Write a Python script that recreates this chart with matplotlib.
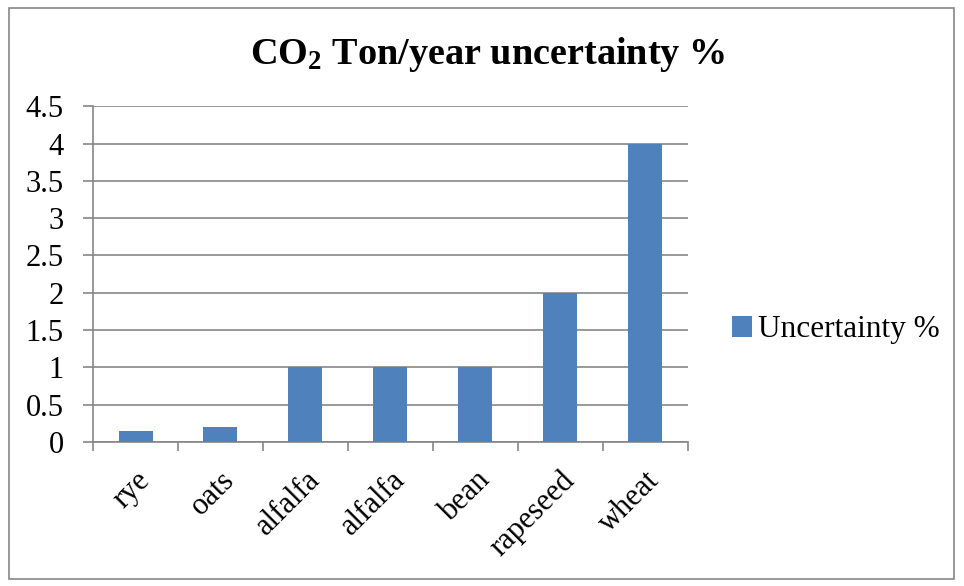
import matplotlib.pyplot as plt
from matplotlib.patches import Rectangle

crops = ["rye", "oats", "alfalfa", "alfalfa", "bean", "rapeseed", "wheat"]
uncertainty = [0.15, 0.2, 1, 1, 1, 2, 4]
yticks = [0, 0.5, 1, 1.5, 2, 2.5, 3, 3.5, 4, 4.5]

plt.rcParams['font.family'] = ['Liberation Serif', 'DejaVu Serif']
# bold serif for the subscript in the title
plt.rcParams['mathtext.fontset'] = 'custom'
plt.rcParams['mathtext.rm'] = 'Liberation Serif:bold'
plt.rcParams['mathtext.it'] = 'Liberation Serif:bold'
plt.rcParams['mathtext.bf'] = 'Liberation Serif:bold'

grid_col = '#868686'

fig = plt.figure(figsize=(9.64, 5.86), dpi=100)
ax = fig.add_axes([0.0965, 0.2457, 0.617, 0.573])

# outer chart border
fig.patches.append(Rectangle((0.009, 0.012), 0.981, 0.975, transform=fig.transFigure,
                             fill=False, edgecolor=grid_col, linewidth=1.2))

x = range(len(crops))
ax.bar(x, uncertainty, width=0.4, color='#4F81BD', label='Uncertainty %', zorder=3)

ax.set_xlim(-0.5, len(crops) - 0.5)
ax.set_ylim(0, 4.5)
ax.set_yticks(yticks)
ax.set_yticklabels([f"{v:g}" for v in yticks], fontsize=22)
ax.yaxis.grid(True, color=grid_col, linewidth=1.2, zorder=0)

# category boundary ticks on x axis
ax.set_xticks([i - 0.5 for i in range(len(crops) + 1)], minor=False)
ax.set_xticklabels([])
ax.set_xticks(list(x), minor=True)
ax.set_xticklabels(crops, minor=True, rotation=45, ha='right', rotation_mode='anchor',
                   fontsize=22)
ax.tick_params(axis='x', which='major', length=6.5, color=grid_col, width=1.2)
ax.tick_params(axis='x', which='minor', length=0, pad=17)
ax.tick_params(axis='y', length=7, color=grid_col, width=1.2, pad=14)

for side in ['top', 'right']:
    ax.spines[side].set_visible(False)
for side in ['left', 'bottom']:
    ax.spines[side].set_color(grid_col)
    ax.spines[side].set_linewidth(1.2)

fig.text(0.506, 0.907, "CO$_2$ Ton/year uncertainty %", fontsize=27.5, fontweight='bold',
         ha='center', va='center')

fig.legend(loc='center left', bbox_to_anchor=(0.759, 0.437), frameon=False,
           fontsize=22.5, handlelength=0.65, handleheight=0.65, handletextpad=0.2,
           borderpad=0, borderaxespad=0)

fig.savefig("out.png", dpi=100)
